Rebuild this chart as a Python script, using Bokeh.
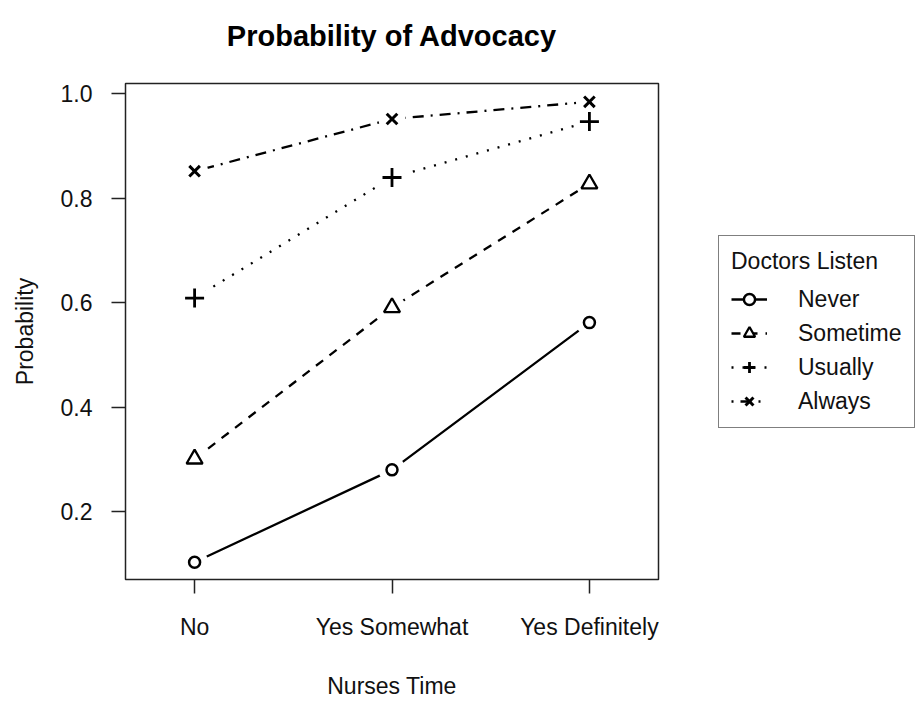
from bokeh.plotting import figure
from bokeh.layouts import row
from bokeh.models import Range1d, FixedTicker, PrintfTickFormatter, Legend, LegendItem, Title
from bokeh.embed import file_html
from bokeh.resources import INLINE

# ---- data ----
categories = ["No", "Yes Somewhat", "Yes Definitely"]
x_pos = [1, 2, 3]
never = [0.103, 0.280, 0.562]
sometime = [0.301, 0.591, 0.828]
usually = [0.609, 0.840, 0.947]
always = [0.852, 0.952, 0.985]
series_names = ["Never", "Sometime", "Usually", "Always"]
y_ticks = [0.2, 0.4, 0.6, 0.8, 1.0]

FONT = "Liberation Sans"
INK = "#111111"

p = figure(width=700, height=701, output_backend="svg", toolbar_location=None,
           x_range=Range1d(0.65, 3.35), y_range=Range1d(0.070, 1.020),
           min_border_left=125, min_border_right=42, min_border_top=83,
           min_border_bottom=121)
p.background_fill_color = "white"
p.border_fill_color = "white"
p.outline_line_color = "#222222"
p.outline_line_width = 1.5
p.grid.visible = False

p.title.text = "Probability of Advocacy"
p.title.text_font = FONT
p.title.text_font_size = "29px"
p.title.text_font_style = "bold"
p.title.text_color = "black"
p.title.align = "center"
p.title.standoff = 10
# spacer between title and plot box
p.add_layout(Title(text=" ", text_font_size="2px", standoff=23), "above")

for ax in (p.xaxis[0], p.yaxis[0]):
    ax.axis_line_color = None
    ax.major_tick_line_color = "#222222"
    ax.major_tick_line_width = 1.5
    ax.major_tick_out = 14
    ax.major_tick_in = 0
    ax.minor_tick_line_color = None
    ax.major_label_text_font = FONT
    ax.major_label_text_font_size = "23px"
    ax.major_label_text_color = INK
    ax.axis_label_text_font = FONT
    ax.axis_label_text_font_size = "23px"
    ax.axis_label_text_font_style = "normal"
    ax.axis_label_text_color = INK

p.xaxis.ticker = FixedTicker(ticks=x_pos)
p.xaxis.major_label_overrides = {x: c for x, c in zip(x_pos, categories)}
p.xaxis.axis_label = "Nurses Time"
p.xaxis.major_label_standoff = 20
p.xaxis.axis_label_standoff = 30

p.yaxis.ticker = FixedTicker(ticks=y_ticks)
p.yaxis.formatter = PrintfTickFormatter(format="%.1f")
p.yaxis.axis_label = "Probability"
p.yaxis.major_label_standoff = 19
p.yaxis.axis_label_standoff = 20

vals = [never, sometime, usually, always]
dashes = ["solid", "9 8", "2 9", "2 7 11 7"]
marker_specs = [
    dict(marker="circle", size=11, fill_color="white", line_width=2.5),
    dict(marker="triangle", size=16, fill_color="white", line_width=2.3),
    dict(marker="cross", size=19, line_width=2.8),
    dict(marker="x", size=15, line_width=3),
]

for v, d in zip(vals, dashes):
    p.line(x_pos, v, line_color="black", line_width=2.3, line_dash=d)

# white gaps around points (R type="b" look)
for v in vals:
    p.scatter(x_pos, v, marker="circle", size=27, fill_color="white", line_color=None)

for v, ms in zip(vals, marker_specs):
    p.scatter(x_pos, v, line_color="black", **ms)

# ---- legend panel (separate figure so the legend can sit outside the plot box) ----
q = figure(width=215, height=701, output_backend="svg", toolbar_location=None,
           title=None, x_axis_type=None, y_axis_type=None,
           x_range=Range1d(100, 101), y_range=Range1d(100, 101),
           min_border_left=0, min_border_right=0, min_border_top=0, min_border_bottom=0)
q.outline_line_color = None
q.grid.visible = False
q.background_fill_color = "white"
q.border_fill_color = "white"

items = []
for name, v, d, ms in zip(series_names, vals, dashes, marker_specs):
    ln = q.line(x_pos, v, line_color="black", line_width=2.3, line_dash=d)
    mk = q.scatter(x_pos, v, line_color="black", **ms)
    items.append(LegendItem(label=name, renderers=[ln, mk]))

legend = Legend(items=items, location=(18, 151), title="Doctors Listen",
                title_text_font=FONT, title_text_font_size="23px", title_text_font_style="normal",
                title_text_color=INK, title_standoff=10,
                label_text_font=FONT, label_text_font_size="23px", label_text_color=INK,
                glyph_width=36, glyph_height=28, label_height=28, label_standoff=31,
                spacing=6, padding=12, margin=0,
                border_line_color="black", border_line_width=1.2,
                background_fill_color="white", background_fill_alpha=1.0)
q.add_layout(legend, "center")

layout = row(p, q)
open("out.html", "w").write(file_html(layout, INLINE))
